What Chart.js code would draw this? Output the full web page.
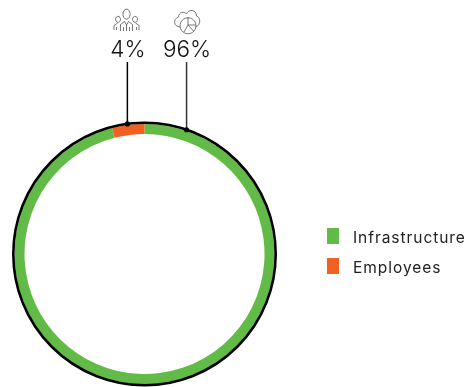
<!DOCTYPE html>
<html>
<head>
<meta charset="utf-8">
<style>
  html, body { margin: 0; padding: 0; background: #fff; }
  #wrap { position: relative; width: 470px; height: 387px; overflow: hidden; }
</style>
<script src="https://cdn.jsdelivr.net/npm/chart.js@4"></script>
</head>
<body>
<div id="wrap"><canvas id="chart" width="470" height="387"></canvas></div>
<script>
const categories = ['Infrastructure', 'Employees'];
const shares = [96, 4];
const shareLabels = ['96%', '4%'];
const colors = ['#62BB46', '#F26122'];
const calloutDegrees = [18.7, -7.5];

const FONT = 'Inter, sans-serif';

// little line icons above the percentages
const icons = [
    { x: 186.5, y: 20, paths: [
        'M-6 7 C-13 7 -14 -1 -8 -3 C-8 -8 -2 -9 0 -6 C2 -11 10 -11 10 -4 C14 -3 15 5 9 7',
        'M9.5 5 A8 8 0 1 1 9.49 4.9 M1.5 -3 V5 L7 11 M1.5 5 L-2.5 12 M1.5 5 H9.5'
    ] },
    { x: 126.5, y: 20, paths: [
        'M3.6 -6.5 A3.6 5 0 1 1 3.59 -6.6',
        'M-6 11 V4.5 L-2 1.5 L0 5 L2 1.5 L6 4.5 V11 M-3 11 V7 M3 11 V7 M0 5 V11',
        'M-6 -1 A2.5 3 0 1 1 -6.01 -1.1 M-12.5 10 V5.5 L-9 3 M-10 10 V7',
        'M11 -1 A2.5 3 0 1 1 10.99 -1.1 M12.5 10 V5.5 L9 3 M10 10 V7'
    ] }
];

const annotate = {
    id: 'annotate',
    afterDatasetsDraw(chart) {
        const { ctx } = chart;
        const arcs = chart.getDatasetMeta(0).data;
        const cx = arcs[0].x, cy = arcs[0].y, r = arcs[0].outerRadius;

        // black rim round the ring
        ctx.save();
        ctx.strokeStyle = '#000';
        ctx.lineWidth = 2.6;
        ctx.beginPath();
        ctx.arc(cx, cy, r + 1.2, 0, Math.PI * 2);
        ctx.stroke();

        // leader lines, dots and percentages
        calloutDegrees.forEach((deg, i) => {
            const a = deg * Math.PI / 180;
            const x = cx + (r + 1.2) * Math.sin(a);
            const y = cy - (r + 1.2) * Math.cos(a);
            ctx.strokeStyle = i === 0 ? '#333' : '#000';
            ctx.lineWidth = 1.5;
            ctx.beginPath();
            ctx.moveTo(x, 62);
            ctx.lineTo(x, y);
            ctx.stroke();
            ctx.fillStyle = '#000';
            ctx.beginPath();
            ctx.arc(x, y, 2.6, 0, Math.PI * 2);
            ctx.fill();
            ctx.fillStyle = '#111';
            ctx.font = '300 22.5px ' + FONT;
            ctx.textAlign = 'center';
            ctx.textBaseline = 'alphabetic';
            ctx.fillText(shareLabels[i], x + 0.5, 57);
        });

        icons.forEach(icon => {
            ctx.save();
            ctx.translate(icon.x, icon.y);
            ctx.strokeStyle = '#666';
            ctx.lineWidth = 0.9;
            icon.paths.forEach(p => ctx.stroke(new Path2D(p)));
            ctx.restore();
        });

        // legend
        ctx.font = '15.5px ' + FONT;
        ctx.letterSpacing = '0.95px';
        ctx.textAlign = 'left';
        ctx.textBaseline = 'middle';
        categories.forEach((name, i) => {
            const top = 228 + i * 30;
            ctx.fillStyle = colors[i];
            ctx.fillRect(327, top, 12, 16);
            ctx.fillStyle = '#222';
            ctx.fillText(name, 353, top + 10);
        });
        ctx.restore();
    }
};

new Chart(document.getElementById('chart'), {
    type: 'doughnut',
    data: {
        labels: categories,
        datasets: [{
            data: shares,
            backgroundColor: colors,
            borderWidth: 0
        }]
    },
    options: {
        responsive: false,
        animation: false,
        cutout: 120,
        layout: { padding: { left: 14.5, right: 195.5, top: 124, bottom: 3 } },
        plugins: {
            legend: { display: false },
            tooltip: { enabled: false }
        }
    },
    plugins: [annotate]
});
</script>
</body>
</html>
